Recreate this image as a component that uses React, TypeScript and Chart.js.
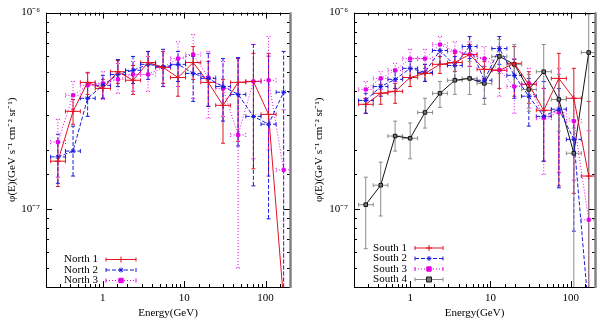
import React, { useEffect, useRef } from 'react';
import { Chart, registerables } from 'chart.js';
Chart.register(...registerables);

// ---------- data ----------
const energy = [0.28, 0.43, 0.65, 1.0, 1.53, 2.35, 3.6, 5.5, 8.4, 12.9, 19.8, 30, 46, 71, 109, 167];
const energyLo = [0.228, 0.347, 0.529, 0.806, 1.24, 1.9, 2.91, 4.45, 6.8, 10.4, 16.0, 24.4, 37.2, 57.2, 88, 135];
const energyHi = [0.347, 0.529, 0.806, 1.24, 1.9, 2.91, 4.45, 6.8, 10.4, 16.0, 24.4, 37.2, 57.2, 88, 135, 207];

const north1 = [1.75e-7, 3.14e-7, 4.41e-7, 4.11e-7, 5.0e-7, 4.52e-7, 5.57e-7, 5.26e-7, 4.67e-7, 5.57e-7, 4.41e-7, 3.37e-7, 4.41e-7, 4.46e-7, 3.03e-7, 3.4e-8];
const north1Lo = [1.3e-7, 2.7e-7, 3.83e-7, 3.66e-7, 4.36e-7, 3.83e-7, 4.9e-7, 4.36e-7, 3.75e-7, 4.57e-7, 3.33e-7, 2.16e-7, 2.21e-7, 1.6e-7, 1.47e-7, 3.4e-8];
const north1Hi = [2.2e-7, 3.61e-7, 4.96e-7, 4.57e-7, 5.7e-7, 5.38e-7, 6.34e-7, 6.34e-7, 5.83e-7, 6.72e-7, 5.64e-7, 4.57e-7, 5.83e-7, 6.2e-7, 6.2e-7, 3.4e-8];

const north2 = [1.84e-7, 1.97e-7, 3.66e-7, 4.26e-7, 4.84e-7, 5.08e-7, 5.45e-7, 5.3e-7, 5.45e-7, 4.9e-7, 4.62e-7, 4.2e-7, 3.83e-7, 2.96e-7, 2.7e-7, 3.93e-7];
const north2Lo = [1.35e-7, 1.47e-7, 2.96e-7, 3.66e-7, 4.2e-7, 4.36e-7, 4.57e-7, 4.2e-7, 4.46e-7, 3.53e-7, 3.33e-7, 2.8e-7, 2.09e-7, 1.31e-7, 8.9e-8, 3e-8];
const north2Hi = [2.4e-7, 2.64e-7, 4.36e-7, 4.79e-7, 5.77e-7, 5.98e-7, 6.34e-7, 6.5e-7, 6.34e-7, 5.98e-7, 6.2e-7, 5.83e-7, 5.9e-7, 6.88e-7, 6.0e-7, 6.34e-7];

const north3 = [2.19e-7, 3.79e-7, 4.26e-7, 4.36e-7, 4.57e-7, 4.84e-7, 4.84e-7, 5.26e-7, 5.83e-7, 6.12e-7, 4.67e-7, 4.1e-7, 2.38e-7, 4.46e-7, 4.52e-7, 1.58e-7];
const north3Lo = [1.45e-7, 3.22e-7, 3.7e-7, 3.61e-7, 3.88e-7, 3.97e-7, 3.97e-7, 4.2e-7, 4.2e-7, 3.66e-7, 2.9e-7, 2.96e-7, 5.0e-8, 1.8e-7, 2.0e-7, 3e-8];
const north3Hi = [2.86e-7, 4.46e-7, 4.9e-7, 5.0e-7, 5.51e-7, 5.64e-7, 5.98e-7, 6.34e-7, 7.1e-7, 7.73e-7, 6.34e-7, 5.64e-7, 5.83e-7, 6.88e-7, 7.55e-7, 3.2e-7];

const south1 = [3.41e-7, 3.88e-7, 3.97e-7, 4.67e-7, 4.9e-7, 5.45e-7, 5.57e-7, 6.12e-7, 5.14e-7, 5.08e-7, 5.51e-7, 4.31e-7, 3.18e-7, 4.62e-7, 3.66e-7, 1.47e-7];
const south1Lo = [3.07e-7, 3.41e-7, 3.45e-7, 4.2e-7, 4.46e-7, 4.9e-7, 5.02e-7, 5.32e-7, 4.57e-7, 4.11e-7, 3.75e-7, 3.45e-7, 1.75e-7, 1.31e-7, 1.2e-7, 3e-8];
const south1Hi = [3.66e-7, 4.31e-7, 4.36e-7, 5.2e-7, 5.45e-7, 5.98e-7, 6.2e-7, 6.88e-7, 5.64e-7, 6.12e-7, 6.72e-7, 5.0e-7, 4.11e-7, 6.2e-7, 5.2e-7, 3.53e-7];

const south2 = [3.57e-7, 4.2e-7, 4.57e-7, 5.2e-7, 4.96e-7, 6.41e-7, 5.38e-7, 6.72e-7, 4.52e-7, 6.56e-7, 4.79e-7, 3.75e-7, 2.96e-7, 3.22e-7, 2.26e-7, 3e-8];
const south2Lo = [3.07e-7, 3.75e-7, 4.11e-7, 4.62e-7, 4.46e-7, 5.45e-7, 4.62e-7, 5.83e-7, 3.66e-7, 5.45e-7, 3.66e-7, 2.64e-7, 1.75e-7, 1.28e-7, 7.7e-8, 3e-8];
const south2Hi = [3.88e-7, 4.57e-7, 5.0e-7, 5.64e-7, 5.45e-7, 6.88e-7, 5.98e-7, 7.55e-7, 5.32e-7, 7.55e-7, 5.77e-7, 4.62e-7, 4.46e-7, 4.11e-7, 2.8e-7, 3e-8];

const south3 = [4.06e-7, 4.62e-7, 5.08e-7, 5.83e-7, 5.83e-7, 6.88e-7, 6.34e-7, 6.12e-7, 5.83e-7, 5.1e-7, 4.2e-7, 4.36e-7, 2.9e-7, 3.1e-7, 2.8e-7, 8.8e-8];
const south3Lo = [3.66e-7, 4.06e-7, 4.46e-7, 5.2e-7, 5.2e-7, 6.2e-7, 5.64e-7, 5.32e-7, 4.62e-7, 3.75e-7, 3.07e-7, 3.26e-7, 1.5e-7, 1.53e-7, 1.4e-7, 3e-8];
const south3Hi = [4.46e-7, 5.0e-7, 5.51e-7, 6.5e-7, 6.5e-7, 7.55e-7, 7.1e-7, 7.1e-7, 6.72e-7, 6.72e-7, 5.83e-7, 5.2e-7, 4.11e-7, 5.2e-7, 3.66e-7, 2.5e-7];

const south4 = [1.05e-7, 1.32e-7, 2.35e-7, 2.29e-7, 3.1e-7, 3.88e-7, 4.52e-7, 4.62e-7, 4.36e-7, 5.98e-7, 5.45e-7, 4.06e-7, 5.0e-7, 3.61e-7, 1.92e-7, 6.26e-7];
const south4Lo = [6.27e-8, 9.2e-8, 1.97e-7, 1.8e-7, 2.58e-7, 3.29e-7, 3.83e-7, 3.83e-7, 3.41e-7, 4.9e-7, 4.2e-7, 3.14e-7, 3.14e-7, 2.49e-7, 3e-8, 3e-8];
const south4Hi = [1.45e-7, 1.73e-7, 2.8e-7, 2.74e-7, 3.66e-7, 4.46e-7, 5.32e-7, 5.64e-7, 5.32e-7, 7.3e-7, 6.88e-7, 4.84e-7, 6.88e-7, 4.84e-7, 2.58e-7, 9.8e-7];

const xMin = 0.2;
const xMax = 200;
const yMin = 4e-8;
const yMax = 1e-6;

const xLabel = 'Energy(GeV)';
const yLabel = 'φ(E)(GeV s⁻¹ cm⁻² sr⁻¹)';

// ---------- styles ----------
const RED = 'rgb(225,20,35)';
const BLUE = 'rgb(25,25,225)';
const MAG = 'rgb(230,0,230)';
const BLACK = 'rgb(20,20,20)';
const GREY = 'rgb(140,140,140)';
const FONT = "'Liberation Serif', 'Times New Roman', serif";

type Style = { color: string; dash: number[]; errColor: string; marker: string; fill: string; radius: number };
const sRed: Style = { color: RED, dash: [], errColor: RED, marker: 'cross', fill: RED, radius: 3 };
const sBlue: Style = { color: BLUE, dash: [4, 2], errColor: BLUE, marker: 'star', fill: BLUE, radius: 2.5 };
const sMag: Style = { color: MAG, dash: [1, 2], errColor: MAG, marker: 'rect', fill: MAG, radius: 2.2 };
const sBlack: Style = { color: BLACK, dash: [], errColor: GREY, marker: 'rect', fill: 'rgb(120,120,120)', radius: 2.5 };

function makeDs(label: string, vals: number[], lo: number[], hi: number[], s: Style) {
  return {
    label,
    data: energy.map((e, i) => ({ x: e, y: vals[i] })),
    yLo: lo,
    yHi: hi,
    xLo: energyLo,
    xHi: energyHi,
    errColor: s.errColor,
    errDash: s.dash,
    borderColor: s.color,
    borderWidth: 1,
    borderDash: s.dash,
    backgroundColor: s.fill,
    pointStyle: s.marker,
    pointRadius: s.radius,
    pointBorderColor: s.color,
    pointBackgroundColor: s.fill,
    pointBorderWidth: 1,
    fill: false,
    tension: 0,
    showLine: true,
  };
}

const isDecade = (v: number) => Math.abs(Math.log10(v) - Math.round(Math.log10(v))) < 1e-6;
const SUP: Record<string, string> = { '-': '⁻', '0': '⁰', '1': '¹', '2': '²', '3': '³', '4': '⁴', '5': '⁵', '6': '⁶', '7': '⁷', '8': '⁸', '9': '⁹' };
const supStr = (n: number) => String(n).split('').map((c) => SUP[c] || c).join('');

const errorBarPlugin = {
  id: 'errbars',
  beforeDatasetsDraw(chart: any) {
    const { ctx, chartArea: a, scales } = chart;
    const x = scales.x, y = scales.y;
    ctx.save();
    ctx.beginPath();
    ctx.rect(a.left, a.top, a.right - a.left, a.bottom - a.top);
    ctx.clip();
    ctx.lineWidth = 1;
    chart.data.datasets.forEach((ds: any) => {
      ctx.strokeStyle = ds.errColor;
      ctx.setLineDash(ds.errDash || []);
      ds.data.forEach((p: any, i: number) => {
        const px = x.getPixelForValue(p.x);
        const py = y.getPixelForValue(p.y);
        const x0 = x.getPixelForValue(ds.xLo[i]);
        const x1 = x.getPixelForValue(ds.xHi[i]);
        const yl = y.getPixelForValue(ds.yLo[i]);
        const yh = y.getPixelForValue(ds.yHi[i]);
        ctx.beginPath();
        ctx.moveTo(x0, py); ctx.lineTo(x1, py);
        ctx.moveTo(x0, py - 2); ctx.lineTo(x0, py + 2);
        ctx.moveTo(x1, py - 2); ctx.lineTo(x1, py + 2);
        if (Math.abs(yl - yh) > 0.5) {
          ctx.moveTo(px, yl); ctx.lineTo(px, yh);
          ctx.moveTo(px - 2, yl); ctx.lineTo(px + 2, yl);
          ctx.moveTo(px - 2, yh); ctx.lineTo(px + 2, yh);
        }
        ctx.stroke();
      });
    });
    ctx.restore();
  },
};

function drawMarker(ctx: CanvasRenderingContext2D, style: string, cx: number, cy: number, r: number, stroke: string, fill: string) {
  ctx.save();
  ctx.setLineDash([]);
  ctx.strokeStyle = stroke;
  ctx.fillStyle = fill;
  ctx.lineWidth = 1;
  ctx.beginPath();
  if (style === 'cross') {
    ctx.moveTo(cx - r, cy); ctx.lineTo(cx + r, cy);
    ctx.moveTo(cx, cy - r); ctx.lineTo(cx, cy + r);
    ctx.stroke();
  } else if (style === 'star') {
    ctx.moveTo(cx - r, cy); ctx.lineTo(cx + r, cy);
    ctx.moveTo(cx, cy - r); ctx.lineTo(cx, cy + r);
    ctx.moveTo(cx - r * 0.7, cy - r * 0.7); ctx.lineTo(cx + r * 0.7, cy + r * 0.7);
    ctx.moveTo(cx - r * 0.7, cy + r * 0.7); ctx.lineTo(cx + r * 0.7, cy - r * 0.7);
    ctx.stroke();
  } else {
    ctx.rect(cx - r, cy - r, 2 * r, 2 * r);
    ctx.fill();
    ctx.stroke();
  }
  ctx.restore();
}

function makeFramePlugin(legend: { textRight: number; sx0: number; sx1: number; rows: number[] }) {
  return {
    id: 'frame',
    afterDraw(chart: any) {
      const { ctx, chartArea: a, scales } = chart;
      const x = scales.x, y = scales.y;
      ctx.save();
      ctx.setLineDash([]);
      ctx.strokeStyle = '#000';
      ctx.lineWidth = 1;
      ctx.beginPath();
      x.ticks.forEach((t: any) => {
        const v = t.value;
        if (v < xMin - 1e-9 || v > xMax + 1e-9) return;
        const px = Math.round(x.getPixelForValue(v)) + 0.5;
        const l = isDecade(v) ? 6 : 3;
        ctx.moveTo(px, a.bottom); ctx.lineTo(px, a.bottom - l);
        ctx.moveTo(px, a.top); ctx.lineTo(px, a.top + l);
      });
      y.ticks.forEach((t: any) => {
        const v = t.value;
        const py = Math.round(y.getPixelForValue(v)) + 0.5;
        const l = isDecade(v) ? 6 : 3;
        ctx.moveTo(a.left, py); ctx.lineTo(a.left + l, py);
        ctx.moveTo(a.right, py); ctx.lineTo(a.right - l, py);
      });
      ctx.stroke();
      ctx.strokeRect(Math.round(a.left) + 0.5, Math.round(a.top) + 0.5, Math.round(a.right - a.left), Math.round(a.bottom - a.top));
      ctx.strokeStyle = 'rgb(130,130,130)';
      ctx.lineWidth = 2.5;
      ctx.beginPath();
      ctx.moveTo(Math.round(a.right) + 0.5, a.top);
      ctx.lineTo(Math.round(a.right) + 0.5, a.bottom + 1);
      ctx.stroke();

      // legend
      ctx.font = `11px ${FONT}`;
      ctx.textAlign = 'right';
      ctx.textBaseline = 'middle';
      chart.data.datasets.forEach((ds: any, i: number) => {
        const ry = legend.rows[i] + 0.5;
        ctx.fillStyle = '#000';
        ctx.fillText(ds.label, legend.textRight, ry);
        ctx.strokeStyle = ds.errColor;
        ctx.lineWidth = 1;
        ctx.setLineDash(ds.errDash || []);
        ctx.beginPath();
        ctx.moveTo(legend.sx0, ry); ctx.lineTo(legend.sx1, ry);
        ctx.stroke();
        ctx.setLineDash([]);
        ctx.beginPath();
        ctx.moveTo(legend.sx0, ry - 2); ctx.lineTo(legend.sx0, ry + 2);
        ctx.moveTo(legend.sx1, ry - 2); ctx.lineTo(legend.sx1, ry + 2);
        ctx.stroke();
        drawMarker(ctx, ds.pointStyle, (legend.sx0 + legend.sx1) / 2, ry, ds.pointRadius, ds.pointBorderColor, ds.pointBackgroundColor);
      });
      ctx.restore();
    },
  };
}

type PanelProps = {
  datasets: any[];
  yAxisWidth: number;
  padTop: number;
  padRight: number;
  yTitlePad: number;
  legend: { textRight: number; sx0: number; sx1: number; rows: number[] };
};

function Panel({ datasets, yAxisWidth, padTop, padRight, yTitlePad, legend }: PanelProps) {
  const ref = useRef<HTMLCanvasElement | null>(null);
  useEffect(() => {
    if (!ref.current) return;
    const chart = new Chart(ref.current, {
      type: 'line',
      data: { datasets },
      options: {
        animation: false,
        responsive: false,
        devicePixelRatio: 1,
        layout: { padding: { top: padTop, right: padRight, left: 0, bottom: 0 } },
        plugins: { legend: { display: false }, tooltip: { enabled: false } },
        scales: {
          x: {
            type: 'logarithmic',
            min: xMin,
            max: xMax,
            grid: { display: false, drawTicks: false },
            border: { display: false },
            ticks: {
              autoSkip: false,
              maxRotation: 0,
              padding: 5,
              color: '#000',
              font: { family: FONT, size: 11 },
              callback: (v: any) => (isDecade(Number(v)) && Number(v) >= 1 ? String(Math.round(Number(v))) : ''),
            },
            title: { display: true, text: xLabel, color: '#000', font: { family: FONT, size: 11 }, padding: { top: 0, bottom: 1 } },
            afterFit: (s: any) => { s.height = 34; },
          },
          y: {
            type: 'logarithmic',
            min: yMin,
            max: yMax,
            grid: { display: false, drawTicks: false },
            border: { display: false },
            ticks: {
              autoSkip: false,
              padding: 6,
              color: '#000',
              font: { family: FONT, size: 11 },
              callback: (v: any) => (isDecade(Number(v)) ? '10' + supStr(Math.round(Math.log10(Number(v)))) : ''),
            },
            title: { display: true, text: yLabel, color: '#000', font: { family: FONT, size: 11 }, padding: { top: yTitlePad, bottom: 0 } },
            afterFit: (s: any) => { s.width = yAxisWidth; },
          },
        },
      },
      plugins: [errorBarPlugin, makeFramePlugin(legend)],
    } as any);
    return () => chart.destroy();
  }, []);
  return <canvas ref={ref} width={300} height={321} style={{ display: 'block' }} />;
}

const northSets = [
  makeDs('North 1', north1, north1Lo, north1Hi, sRed),
  makeDs('North 2', north2, north2Lo, north2Hi, sBlue),
  makeDs('North 3', north3, north3Lo, north3Hi, sMag),
];
const southSets = [
  makeDs('South 1', south1, south1Lo, south1Hi, sRed),
  makeDs('South 2', south2, south2Lo, south2Hi, sBlue),
  makeDs('South 3', south3, south3Lo, south3Hi, sMag),
  makeDs('South 4', south4, south4Lo, south4Hi, sBlack),
];

export default function App() {
  return (
    <div style={{ position: 'absolute', left: 0, top: 0, width: 600, height: 321, background: '#fff' }}>
      <div style={{ position: 'absolute', left: 0, top: 0, width: 300, height: 321 }}>
        <Panel datasets={northSets} yAxisWidth={46} padTop={11} padRight={10} yTitlePad={6}
          legend={{ textRight: 98, sx0: 106, sx1: 136, rows: [259, 269.5, 280] }} />
      </div>
      <div style={{ position: 'absolute', left: 300, top: 0, width: 300, height: 321 }}>
        <Panel datasets={southSets} yAxisWidth={54} padTop={12} padRight={2} yTitlePad={13}
          legend={{ textRight: 107, sx0: 115, sx1: 143, rows: [247.5, 258, 268.5, 279] }} />
      </div>
    </div>
  );
}
